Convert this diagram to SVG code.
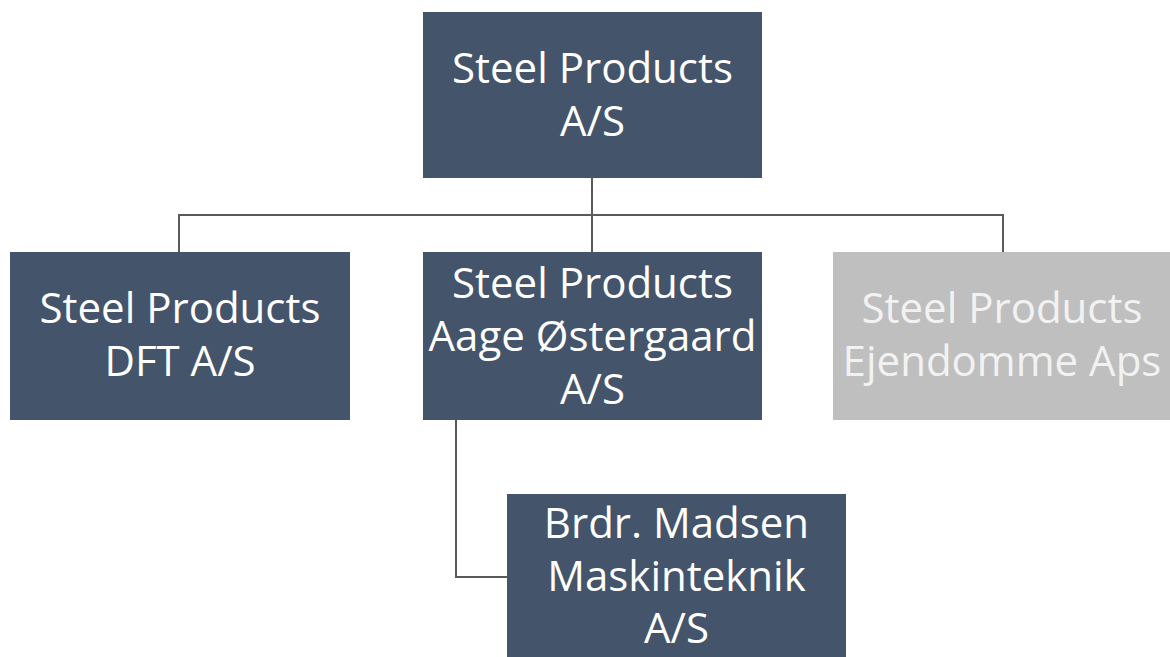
<svg xmlns="http://www.w3.org/2000/svg" width="1170" height="657" viewBox="0 0 1170 657">
<style>
.box{fill:#44546A}
.grey{fill:#BFBFBF}
.t{font-family:"Open Sans","Liberation Sans",sans-serif;font-size:42px;fill:#FFFFFF;text-anchor:middle}
.tg{fill:#F2F2F2}
.c{fill:none;stroke:#5A5A5A;stroke-width:2}
</style>
<rect width="1170" height="657" fill="#FFFFFF"/>
<g id="connectors">
<path class="c" d="M592,178 V252"/>
<path class="c" d="M179,252 V215 H1003 V252"/>
<path class="c" d="M456,420 V577 H507"/>
</g>
<g id="n-top">
<rect class="box" x="423" y="12" width="339" height="166"/>
<text class="t" x="592.5" y="83">Steel Products</text>
<text class="t" x="592.5" y="136">A/S</text>
</g>
<g id="n-dft">
<rect class="box" x="10" y="252" width="340" height="168"/>
<text class="t" x="180" y="323">Steel Products</text>
<text class="t" x="180" y="376">DFT A/S</text>
</g>
<g id="n-aage">
<rect class="box" x="423" y="252" width="339" height="168"/>
<text class="t" x="592.5" y="298">Steel Products</text>
<text class="t" x="592.5" y="351">Aage Østergaard</text>
<text class="t" x="592.5" y="404">A/S</text>
</g>
<g id="n-ejendomme">
<rect class="grey" x="833" y="252" width="337" height="168"/>
<text class="t tg" x="1002" y="323">Steel Products</text>
<text class="t tg" x="1002" y="376">Ejendomme Aps</text>
</g>
<g id="n-brdr">
<rect class="box" x="507" y="494" width="339" height="170"/>
<text class="t" x="676.5" y="538">Brdr. Madsen</text>
<text class="t" x="676.5" y="591">Maskinteknik</text>
<text class="t" x="676.5" y="643">A/S</text>
</g>
</svg>
